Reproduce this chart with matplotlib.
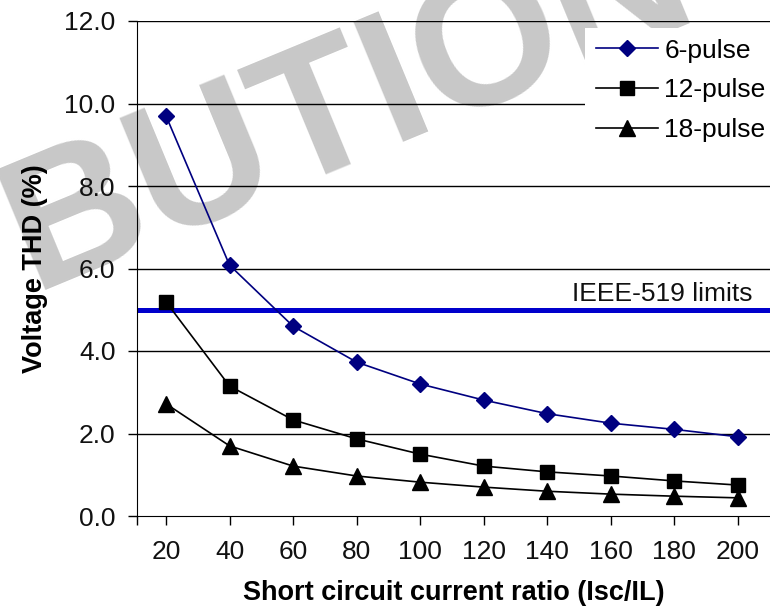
import numpy as np
import matplotlib
matplotlib.use('Agg')
import matplotlib.pyplot as plt
from matplotlib.lines import Line2D

plt.rcParams['font.family'] = ['Liberation Sans', 'DejaVu Sans']

ratios = [20, 40, 60, 80, 100, 120, 140, 160, 180, 200]
thd_6 = [9.70, 6.08, 4.60, 3.73, 3.20, 2.81, 2.48, 2.25, 2.10, 1.92]
thd_12 = [5.19, 3.15, 2.33, 1.87, 1.50, 1.21, 1.07, 0.97, 0.85, 0.75]
thd_18 = [2.72, 1.70, 1.21, 0.97, 0.82, 0.70, 0.60, 0.53, 0.48, 0.44]
ieee_limit = 5.0
yticks = [0, 2, 4, 6, 8, 10, 12]

W, H = 770, 610
fig = plt.figure(figsize=(W / 100, H / 100), dpi=100)
ax = fig.add_axes([137 / W, 94 / H, (W - 137) / W, (516 - 21) / H])
ax.set_facecolor('none')

# watermark behind everything
fig.text(33 / W, 1 - 290 / H, 'BUTION', fontsize=136, fontweight='bold',
         color='#c8c8c8', rotation=22.5, rotation_mode='anchor',
         ha='left', va='baseline', zorder=-5)

for y in yticks[1:]:
    ax.axhline(y, color='black', lw=1, zorder=1)

ax.axhline(ieee_limit, color='#0000cc', lw=3.6, zorder=2)
ax.annotate('IEEE-519 limits', xy=(0.972, ieee_limit),
            xycoords=('axes fraction', 'data'), xytext=(0, 6),
            textcoords='offset points', ha='right', va='baseline',
            fontsize=19, color='#111111')

ax.plot(ratios, thd_6, '-D', color='#000080', lw=1.2, ms=8.5, zorder=4)
ax.plot(ratios, thd_12, '-s', color='black', lw=1.2, ms=10, zorder=4)
ax.plot(ratios, thd_18, '-^', color='black', lw=1.2, ms=11, zorder=4)

x0 = 10.87
ax.set_xlim(x0, 210.1)
ax.set_ylim(0, 12)
ax.set_xticks(ratios)
ax.set_xticks([x0], minor=True)
ax.set_yticks(yticks)
ax.set_yticklabels(['%.1f' % v for v in yticks])

ax.spines['top'].set_visible(False)
ax.spines['right'].set_visible(False)
ax.tick_params(axis='both', which='both', direction='out', length=6.5,
               width=1, labelsize=19, labelcolor='#111111')
ax.tick_params(axis='x', pad=11)
ax.tick_params(axis='y', pad=9)

ax.set_xlabel('Short circuit current ratio (Isc/IL)', fontsize=19.5,
              fontweight='bold')
ax.set_ylabel('Voltage THD (%)', fontsize=19.5, fontweight='bold')
ax.xaxis.set_label_coords(0.5, -0.13)
ax.yaxis.set_label_coords(-0.14, 0.5)

handles = [
    Line2D([], [], color='#000080', marker='D', lw=1.2, ms=8.5),
    Line2D([], [], color='black', marker='s', lw=1.2, ms=10),
    Line2D([], [], color='black', marker='^', lw=1.2, ms=11),
]
leg = ax.legend(handles, ['6-pulse', '12-pulse', '18-pulse'],
                loc='upper left', bbox_to_anchor=(585 / W, 1 - 28 / H),
                bbox_transform=fig.transFigure, borderaxespad=0,
                fontsize=19, frameon=True, fancybox=False,
                facecolor='white', edgecolor='none', framealpha=1,
                handlelength=2.36, handletextpad=0.24, labelspacing=0.6,
                borderpad=0.4, numpoints=1)
leg.set_zorder(3)

fig.savefig('out.png', dpi=100)
